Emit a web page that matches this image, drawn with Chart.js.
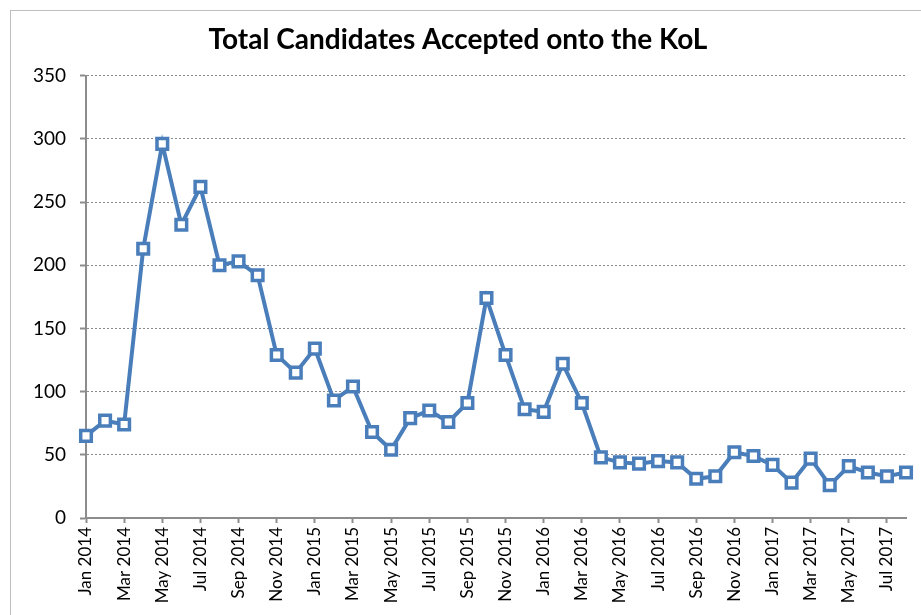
<!DOCTYPE html>
<html>
<head>
<meta charset="utf-8">
<script src="https://cdn.jsdelivr.net/npm/chart.js@4/dist/chart.umd.min.js"></script>
<style>
  html, body { margin: 0; padding: 0; background: #fff; overflow: hidden; }
  #wrap { position: absolute; left: 0; top: 0; width: 956px; height: 615px; }
</style>
</head>
<body>
<div id="wrap"><canvas id="kolChart" width="956" height="615"></canvas></div>
<script>
const monthNames = ["Jan", "Feb", "Mar", "Apr", "May", "Jun", "Jul", "Aug", "Sep", "Oct", "Nov", "Dec"];
const years = [2014, 2015, 2016, 2017];
const lastMonthIndex2017 = 7; // Aug 2017

const categories = [];
years.forEach((y) => {
  monthNames.forEach((m, i) => {
    if (y === 2017 && i > lastMonthIndex2017) return;
    categories.push(`${m} ${y}`);
  });
});

const acceptedCounts = [
  65, 77, 74, 213, 296, 232, 262, 200, 203, 192, 129, 115,
  134, 93, 104, 68, 54, 79, 85, 76, 91, 174, 129, 86,
  84, 122, 91, 48, 44, 43, 45, 44, 31, 33, 52, 49,
  42, 28, 47, 26, 41, 36, 33, 36
];

const yTicks = [0, 50, 100, 150, 200, 250, 300, 350];

const lineBlue = "#4a7ebb";
const axisGray = "#8c8c8c";
const labelFont = "Lato, 'Open Sans', sans-serif";

const frame = {
  id: "frame",
  beforeDraw: (chart) => {
    const ctx = chart.ctx;
    ctx.save();
    ctx.fillStyle = "#fff";
    ctx.fillRect(0, 0, chart.width, chart.height);
    ctx.strokeStyle = "#bfbfbf";
    ctx.lineWidth = 1;
    ctx.strokeRect(10.5, 10.5, chart.width + 50, chart.height + 50);
    ctx.restore();
  },
};

new Chart(document.getElementById("kolChart"), {
  type: "line",
  data: {
    labels: categories,
    datasets: [
      {
        data: acceptedCounts,
        borderColor: lineBlue,
        borderWidth: 4,
        tension: 0,
        pointStyle: "rect",
        pointRadius: 7.5,
        pointBackgroundColor: "#fff",
        pointBorderColor: lineBlue,
        pointBorderWidth: 3.5,
        clip: false,
      },
    ],
  },
  options: {
    responsive: false,
    animation: false,
    layout: { padding: { left: 10, right: 50, top: 0, bottom: 0 } },
    plugins: {
      legend: { display: false },
      tooltip: { enabled: false },
      title: {
        display: true,
        text: "Total Candidates Accepted onto the KoL",
        color: "#000",
        font: { family: labelFont, size: 28, weight: "bold" },
        padding: { top: 23, bottom: 19 },
      },
    },
    scales: {
      x: {
        offset: false,
        afterFit: (scale) => { scale.height = 97; },
        grid: {
          drawOnChartArea: false,
          tickLength: 5,
          tickColor: axisGray,
          tickWidth: 2,
        },
        border: { color: axisGray, width: 2 },
        ticks: {
          autoSkip: false,
          minRotation: 90,
          maxRotation: 90,
          padding: 4,
          color: "#000",
          font: { family: labelFont, size: 17 },
          callback: (v, i) => (i % 2 === 0 ? categories[i] : null),
        },
      },
      y: {
        min: 0,
        max: 350,
        afterFit: (scale) => { scale.width = 76; },
        afterBuildTicks: (scale) => { scale.ticks = yTicks.map((v) => ({ value: v })); },
        grid: {
          color: "#8a8a8a",
          lineWidth: 1,
          tickLength: 6,
          tickColor: axisGray,
          tickWidth: 2,
          tickBorderDash: [],
        },
        border: { color: axisGray, width: 2, dash: [2, 2] },
        ticks: {
          padding: 14,
          color: "#000",
          font: { family: labelFont, size: 19 },
        },
      },
    },
  },
  plugins: [frame],
});
</script>
</body>
</html>
